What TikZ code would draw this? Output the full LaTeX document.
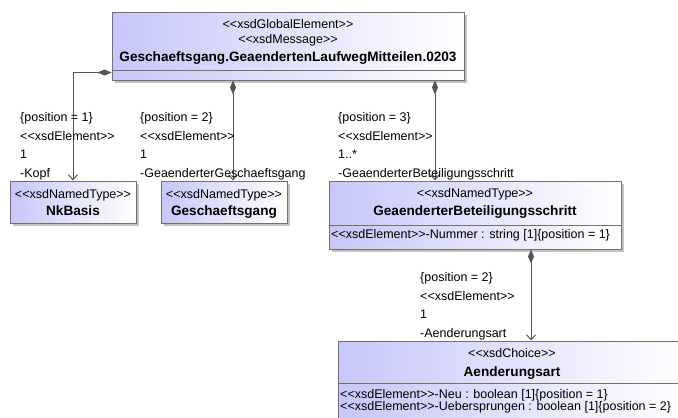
\documentclass[tikz,border=0pt]{standalone}
\usepackage{fontspec}
\setmainfont{Liberation Sans}
\usetikzlibrary{arrows.meta,shadows}
\definecolor{umlfill}{RGB}{198,198,250}
\definecolor{umlborder}{RGB}{125,110,100}
\definecolor{umlline}{RGB}{85,85,85}
\newcommand{\stereo}[1]{<{}<#1>{}>}

\begin{document}
\begin{tikzpicture}[
	x = 1pt, y = -1pt,
	umlbox/.style = {draw = umlborder, line width = 1pt, left color = umlfill, right color = white, inner sep = 0pt,
		drop shadow = {shadow xshift = 3pt, shadow yshift = -3pt, fill = black!30, opacity = 0.8}},
	sep/.style = {draw = umlborder, line width = 1pt},
	st/.style = {inner sep = 0pt, anchor = base, font = \fontsize{12.5}{14}\selectfont},
	clsname/.style = {inner sep = 0pt, anchor = base, font = \fontsize{13.6}{15}\selectfont\bfseries},
	attr/.style = {inner sep = 0pt, anchor = base west, align = left, font = \fontsize{12.5}{12}\selectfont},
	lbl/.style = {inner sep = 0pt, anchor = base west, align = left, font = \fontsize{12.5}{18.7}\selectfont},
	comp/.style = {draw = umlline, line width = 1pt, arrows = {Diamond[length = 14pt, width = 6pt]-Straight Barb[length = 5pt, width = 9pt]}}
	]
	\useasboundingbox (0,0) rectangle (678,418);
	\clip (0,0) rectangle (678,418);
	% boxes
	\node[umlbox, minimum width = 352pt, minimum height = 68pt] (main) at (288,46) {};
	\node[umlbox, minimum width = 126pt, minimum height = 42pt] (nkb) at (73,202) {};
	\node[umlbox, minimum width = 126pt, minimum height = 42pt] (gg) at (224,202) {};
	\node[umlbox, minimum width = 292pt, minimum height = 68pt] (gbs) at (475,215) {};
	\node[umlbox, minimum width = 348pt, minimum height = 89pt] (aend) at (512,385.5) {};
	\draw[sep] ([yshift = 10pt]main.south west) -- ([yshift = 10pt]main.south east);
	\draw[sep] ([yshift = 24pt]gbs.south west) -- ([yshift = 24pt]gbs.south east);
	\draw[sep] ([yshift = -43pt]aend.north west) -- ([yshift = -43pt]aend.north east);
	% box texts
	\node[st] (mainst1) at (288,28.5) {\stereo{xsdGlobalElement}};
	\node[st] (mainst2) at (288,43.5) {\stereo{xsdMessage}};
	\node[clsname] (mainname) at (288,61) {Geschaeftsgang.GeaendertenLaufwegMitteilen.0203};
	\node[st] (nkbst) at (73,198.5) {\stereo{xsdNamedType}};
	\node[clsname] (nkbname) at (73,215) {NkBasis};
	\node[st] (ggst) at (224,198.5) {\stereo{xsdNamedType}};
	\node[clsname] (ggname) at (224,215) {Geschaeftsgang};
	\node[st] (gbsst) at (475,197.5) {\stereo{xsdNamedType}};
	\node[clsname] (gbsname) at (475,215) {GeaenderterBeteiligungsschritt};
	\node[attr] (gbsattr) at (331,238.5) {\stereo{xsdElement}-Nummer : string [1]\{position = 1\}};
	\node[st] (aendst) at (512,357.5) {\stereo{xsdChoice}};
	\node[clsname] (aendname) at (512,376) {Aenderungsart};
	\node[attr] (aendattr) at (340,410.5) {\stereo{xsdElement}-Neu : boolean [1]\{position = 1\}\\
		\stereo{xsdElement}-Uebersprungen : boolean [1]\{position = 2\}};
	% connectors
	\draw[comp] ([yshift = 8pt]main.south west) -| (nkb.north);
	\draw[comp] ([xshift = -55pt]main.south) -- ([xshift = -55pt]main.south |- gg.north);
	\draw[comp] ([xshift = 147pt]main.south) -- ([xshift = 147pt]main.south |- gbs.north);
	\draw[comp] ([xshift = 56pt]gbs.south) -- ([xshift = 56pt]gbs.south |- aend.north);
	% connector labels
	\node[lbl] (lkopf) at (20,177.6) {\{position = 1\}\\\stereo{xsdElement}\\1\\-Kopf};
	\node[lbl] (lgg) at (140,177.6) {\{position = 2\}\\\stereo{xsdElement}\\1\\-GeaenderterGeschaeftsgang};
	\node[lbl] (lgbs) at (338,177.6) {\{position = 3\}\\\stereo{xsdElement}\\1..*\\-GeaenderterBeteiligungsschritt};
	\node[lbl] (laend) at (420,337.6) {\{position = 2\}\\\stereo{xsdElement}\\1\\-Aenderungsart};
\end{tikzpicture}
\end{document}
